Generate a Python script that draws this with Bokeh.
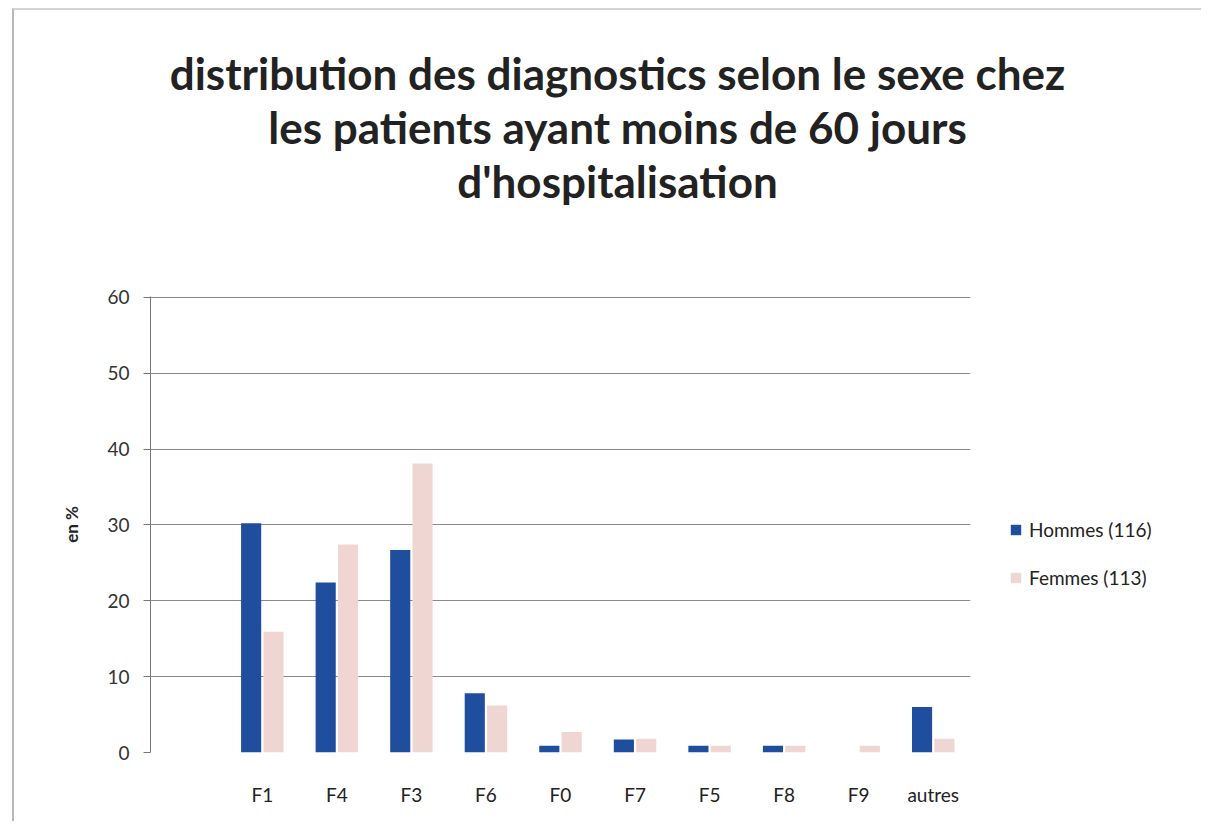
from bokeh.plotting import figure
from bokeh.layouts import column, row
from bokeh.models import Label, Legend, LegendItem, FactorRange, FixedTicker, Range1d
from bokeh.embed import file_html
from bokeh.resources import INLINE
from bokeh.transform import dodge

categories = ["", "F1", "F4", "F3", "F6", "F0", "F7", "F5", "F8", "F9", "autres"]
hommes = [0, 30.2, 22.4, 26.7, 7.8, 0.9, 1.7, 0.9, 0.9, 0.0, 6.0]
femmes = [0, 15.9, 27.4, 38.1, 6.2, 2.7, 1.8, 0.9, 0.9, 0.9, 1.8]
title_lines = ["distribution des diagnostics selon le sexe chez",
               "les patients ayant moins de 60 jours",
               "d'hospitalisation"]
series_names = ["Hommes (116)", "Femmes (113)"]
y_ticks = [0, 10, 20, 30, 40, 50, 60]

FONT = "Lato"
BLUE = "#1f4e9e"
PINK = "#efd6d3"
TXT = "#222222"

W_MAIN, W_LEG, H_TITLE, H_MAIN = 966, 221, 270, 541


def bare(fig):
    fig.axis.visible = False
    fig.grid.visible = False
    fig.outline_line_color = None
    fig.background_fill_color = "white"
    fig.border_fill_color = "white"


# ---- title block ----
tf = figure(width=W_MAIN + W_LEG, height=H_TITLE, x_range=Range1d(0, W_MAIN + W_LEG),
            y_range=Range1d(0, H_TITLE), output_backend="svg", toolbar_location=None, min_border=0)
bare(tf)
for i, line in enumerate(title_lines):
    tf.add_layout(Label(x=603, y=208 - 54 * i, text=line, text_align="center",
                        text_baseline="middle", text_font=FONT, text_font_size="44px",
                        text_font_style="bold", text_color=TXT))

# ---- main chart ----
p = figure(width=W_MAIN, height=H_MAIN, x_range=FactorRange(*categories), y_range=Range1d(0, 60.1),
           output_backend="svg", toolbar_location=None, title=None,
           min_border_left=136, min_border_right=10, min_border_bottom=69, min_border_top=16)
p.background_fill_color = "white"
p.border_fill_color = "white"
p.outline_line_color = None

src = dict(cat=categories, h=hommes, f=femmes)
p.vbar(x=dodge("cat", -0.15, range=p.x_range), top="h", width=0.27, source=src,
       fill_color=BLUE, line_color=None)
p.vbar(x=dodge("cat", 0.15, range=p.x_range), top="f", width=0.27, source=src,
       fill_color=PINK, line_color=None)

p.yaxis.ticker = FixedTicker(ticks=y_ticks)
p.yaxis.axis_label = "en %"
p.yaxis.axis_label_text_font = FONT
p.yaxis.axis_label_text_font_size = "17px"
p.yaxis.axis_label_text_font_style = "bold"
p.yaxis.axis_label_text_color = TXT
p.yaxis.axis_label_standoff = 22
p.yaxis.major_label_text_font = FONT
p.yaxis.major_label_text_font_size = "19px"
p.yaxis.major_label_text_color = "#333333"
p.yaxis.major_label_standoff = 14
p.yaxis.axis_line_color = "#777777"
p.yaxis.major_tick_line_color = "#777777"
p.yaxis.major_tick_in = 0
p.yaxis.major_tick_out = 7
p.yaxis.minor_tick_line_color = None

p.xaxis.axis_line_color = None
p.xaxis.major_tick_line_color = None
p.xaxis.minor_tick_line_color = None
p.xaxis.major_label_text_font = FONT
p.xaxis.major_label_text_font_size = "19px"
p.xaxis.major_label_text_color = TXT
p.xaxis.major_label_standoff = 24

p.xgrid.grid_line_color = None
p.ygrid.grid_line_color = "#8a8a8a"
p.ygrid.grid_line_width = 1.2
p.ygrid.ticker = FixedTicker(ticks=y_ticks)

# ---- legend block (swatch renderers sit outside the visible range) ----
lf = figure(width=W_LEG, height=H_MAIN, x_range=Range1d(0, 1), y_range=Range1d(0, 1),
            output_backend="svg", toolbar_location=None, min_border=0)
bare(lf)
lh = lf.vbar(x=[-5], top=[0], width=0.1, fill_color=BLUE, line_color=None)
lfm = lf.vbar(x=[-5], top=[0], width=0.1, fill_color=PINK, line_color=None)
legend = Legend(items=[LegendItem(label=series_names[0], renderers=[lh]),
                       LegendItem(label=series_names[1], renderers=[lfm])],
                location=(29, 162), border_line_color=None, background_fill_alpha=0,
                padding=0, margin=0,
                label_text_font=FONT, label_text_font_size="19px", label_text_color=TXT,
                glyph_width=13, glyph_height=13, label_height=26, spacing=22, label_standoff=7)
lf.add_layout(legend, "center")

layout = column(tf, row(p, lf))
layout.styles = {"margin-top": "8px", "margin-left": "12px",
                 "border-top": "2px solid #d4d4d4", "border-left": "2px solid #b8b8b8"}

open("out.html", "w").write(file_html(layout, INLINE))
